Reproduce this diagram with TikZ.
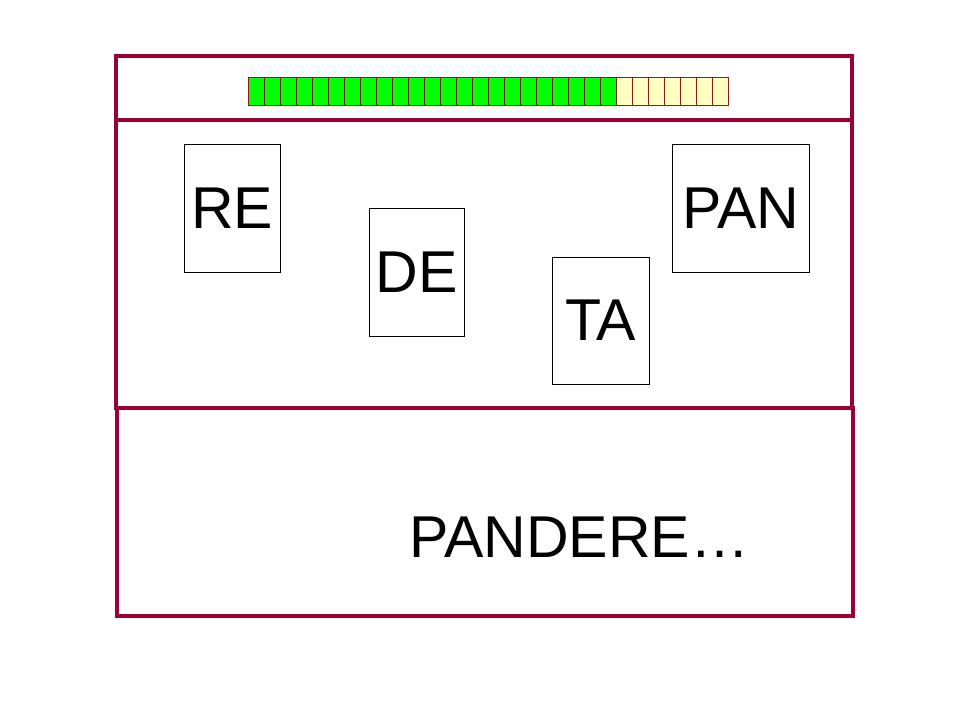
\documentclass[tikz,border=0pt]{standalone}
\usepackage{fontspec}
\setmainfont{Liberation Sans}
\definecolor{framered}{HTML}{990033}
\definecolor{cellgreen}{HTML}{00FF00}
\definecolor{cellyellow}{HTML}{FFFFC0}
\definecolor{celledge}{HTML}{8B1A1A}
\begin{document}
\begin{tikzpicture}[x=1pt,y=-1pt,
  frame/.style={draw=framered,line width=3.5pt},
  card/.style={draw=black,line width=1pt,inner sep=0pt,
    font=\fontsize{59}{60}\selectfont},
  cell/.style={draw=celledge,line width=0.9pt,minimum width=16pt,minimum height=28pt,inner sep=0pt},
  bigtext/.style={font=\fontsize{59}{60}\selectfont,inner sep=0pt}]
\useasboundingbox (0,0) rectangle (960,720);
% frames
\draw[frame] (116,56) rectangle (852,408);
\draw[frame] (116,120) -- (852,120);
\draw[frame] (117,408) rectangle (853,616);
% progress bar
\foreach \i in {0,...,29}{
  \pgfmathsetmacro{\cx}{256+16*\i}
  \ifnum\i<23
    \node[cell,fill=cellgreen] (cell\i) at (\cx,91) {};
  \else
    \node[cell,fill=cellyellow] (cell\i) at (\cx,91) {};
  \fi
}
% cards
\node[card,minimum width=96pt,minimum height=128pt] (re) at (232,208) {RE};
\node[card,minimum width=95pt,minimum height=128pt] (de) at (416.5,272) {DE};
\node[card,minimum width=97pt,minimum height=127pt] (ta) at (600.5,320.5) {TA};
\node[card,minimum width=137pt,minimum height=128pt] (pan) at (740.5,208) {PAN};
% answer
\node[bigtext,anchor=base west] (answer) at (409,557) {PANDERE…};
\end{tikzpicture}
\end{document}
